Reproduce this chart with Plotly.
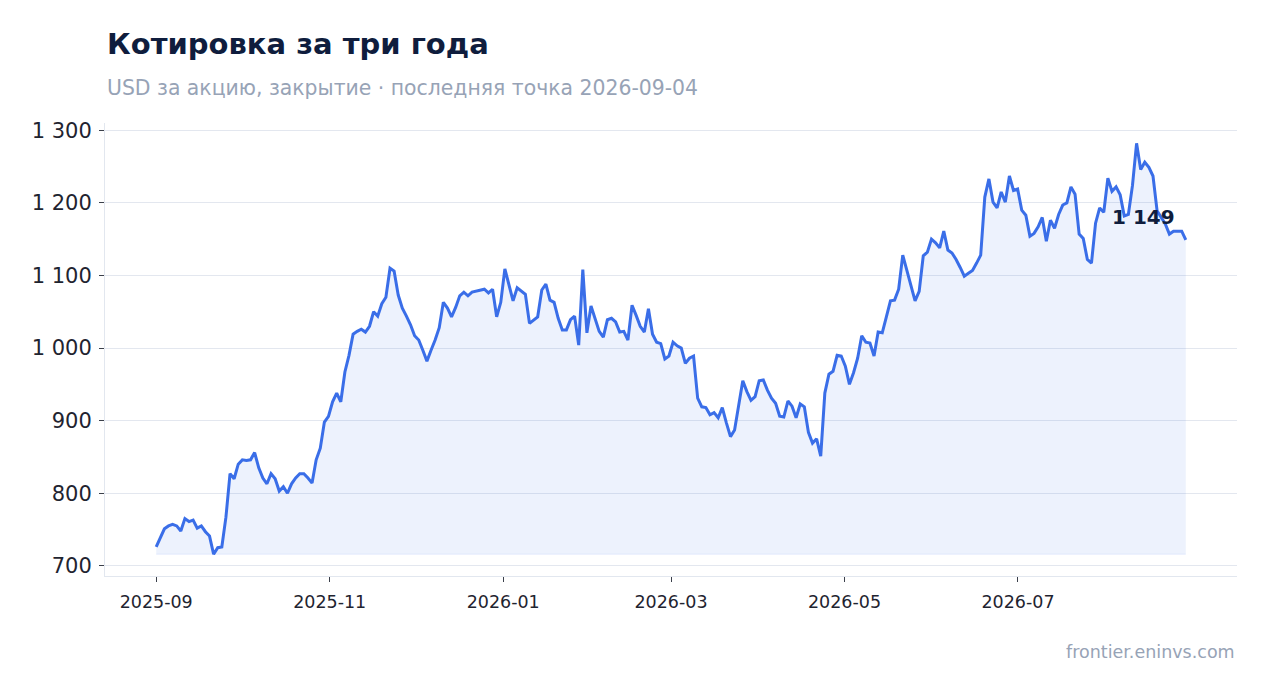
import pandas as pd
import plotly.graph_objects as go

# closing prices, evenly spaced through the year
close_sep_oct = [726, 739, 751, 755, 757, 755, 748, 765, 761, 763,
                 752, 755, 747, 741, 716, 725, 726, 767, 827, 820,
                 840, 846, 845, 846, 856, 835, 821, 813, 827, 820,
                 803, 809, 800, 813, 821, 827, 827, 821, 814, 846,
                 862, 898, 906, 926, 938, 926, 967, 990, 1019, 1023]
close_nov_jan = [1026, 1022, 1030, 1050, 1044, 1061, 1070, 1110, 1106, 1073,
                 1055, 1044, 1032, 1017, 1011, 997, 982, 997, 1011, 1028,
                 1063, 1055, 1043, 1056, 1072, 1077, 1072, 1077, 1078, 1080,
                 1081, 1076, 1081, 1043, 1063, 1109, 1087, 1065, 1083, 1078,
                 1074, 1034, 1039, 1043, 1080, 1088, 1066, 1063, 1041, 1025,
                 1025]
close_feb_apr = [1039, 1044, 1004, 1108, 1021, 1058, 1041, 1023, 1015, 1039,
                 1041, 1036, 1022, 1023, 1011, 1059, 1045, 1030, 1022, 1054,
                 1019, 1008, 1006, 985, 989, 1008, 1003, 1000, 979, 986,
                 989, 931, 919, 918, 908, 911, 904, 918, 897, 878,
                 887, 922, 955, 940, 928, 933, 955, 956, 942, 931,
                 924]
close_apr_jun = [906, 905, 927, 920, 904, 923, 919, 884, 869, 875,
                 851, 938, 964, 968, 990, 989, 975, 950, 966, 986,
                 1017, 1008, 1007, 989, 1022, 1021, 1043, 1065, 1066, 1081,
                 1128, 1107, 1084, 1065, 1078, 1127, 1132, 1150, 1145, 1138,
                 1161, 1135, 1131, 1122, 1111, 1099, 1103, 1107, 1117, 1128]
close_jun_aug = [1208, 1233, 1201, 1193, 1215, 1201, 1237, 1217, 1219, 1190,
                 1183, 1154, 1158, 1167, 1180, 1147, 1176, 1165, 1184, 1197,
                 1200, 1222, 1212, 1157, 1151, 1122, 1117, 1172, 1193, 1187,
                 1234, 1216, 1222, 1211, 1182, 1184, 1224, 1282, 1246, 1256,
                 1249, 1237, 1189, 1180, 1171, 1157, 1161, 1161, 1161, 1149]

close = close_sep_oct + close_nov_jan + close_feb_apr + close_apr_jun + close_jun_aug

dates = pd.date_range("2025-09-01", "2026-08-29", periods=len(close))

tick_vals = ["2025-09-01", "2025-11-01", "2026-01-01", "2026-03-01", "2026-05-01", "2026-07-01"]
tick_text = ["2025-09", "2025-11", "2026-01", "2026-03", "2026-05", "2026-07"]
y_ticks = [700, 800, 900, 1000, 1100, 1200, 1300]

BLUE = "#3a6ee8"
NAVY = "#0f1d3d"
GREY = "#97a3b6"
FONT = "DejaVu Sans"

base = min(close)

fig = go.Figure()
fig.add_trace(go.Scatter(x=dates, y=[base] * len(close), mode="lines",
                         line=dict(width=1, color="rgba(58,110,232,0.10)"),
                         hoverinfo="skip", showlegend=False))
fig.add_trace(go.Scatter(x=dates, y=close, mode="lines", fill="tonexty",
                         fillcolor="rgba(58,110,232,0.09)",
                         line=dict(color=BLUE, width=3), showlegend=False))

last = close[-1]
fig.add_annotation(x=dates[-1], y=last, text="<b>" + f"{last:,}".replace(",", " ") + "</b>",
                   showarrow=False, xanchor="right", yanchor="bottom",
                   xshift=-9, yshift=9, font=dict(family=FONT, size=20, color=NAVY))

# title block, placed in paper units relative to the plot area
fig.add_annotation(xref="paper", yref="paper", x=0, y=1.1744, xanchor="left", yanchor="middle",
                   text="<b>Котировка за три года</b>", showarrow=False,
                   font=dict(family=FONT, size=29, color=NAVY))
fig.add_annotation(xref="paper", yref="paper", x=0, y=1.0773, xanchor="left", yanchor="middle",
                   text="USD за акцию, закрытие · последняя точка 2026-09-04", showarrow=False,
                   font=dict(family=FONT, size=20.4, color=GREY))
fig.add_annotation(xref="paper", yref="paper", x=1, y=-0.168, xanchor="right", yanchor="middle",
                   text="frontier.eninvs.com", showarrow=False,
                   font=dict(family=FONT, size=17.5, color=GREY))

fig.update_layout(
    width=1259, height=685,
    margin=dict(l=97, r=30, t=115, b=117),
    paper_bgcolor="white", plot_bgcolor="white",
    separators=", ",
    font=dict(family=FONT, color="#1f2430"),
    showlegend=False,
)
fig.update_xaxes(type="date", range=["2025-08-14", "2026-09-16"],
                 tickvals=tick_vals, ticktext=tick_text,
                 showgrid=False, showline=True, linecolor="#e2e7ef", linewidth=1,
                 ticks="outside", ticklen=5, tickcolor="#3a3f4a", ticklabelstandoff=5,
                 tickfont=dict(family=FONT, size=17.5, color="#1f2430"), zeroline=False)
fig.update_yaxes(range=[686, 1310], tickvals=y_ticks, separatethousands=True,
                 showgrid=True, gridcolor="#e3e7ef", gridwidth=1,
                 showline=True, linecolor="#e2e7ef", linewidth=1,
                 ticks="outside", ticklen=5, tickcolor="#3a3f4a", ticklabelstandoff=3,
                 tickfont=dict(family=FONT, size=21, color="#1f2430"), zeroline=False)

fig.write_html("out.html")
